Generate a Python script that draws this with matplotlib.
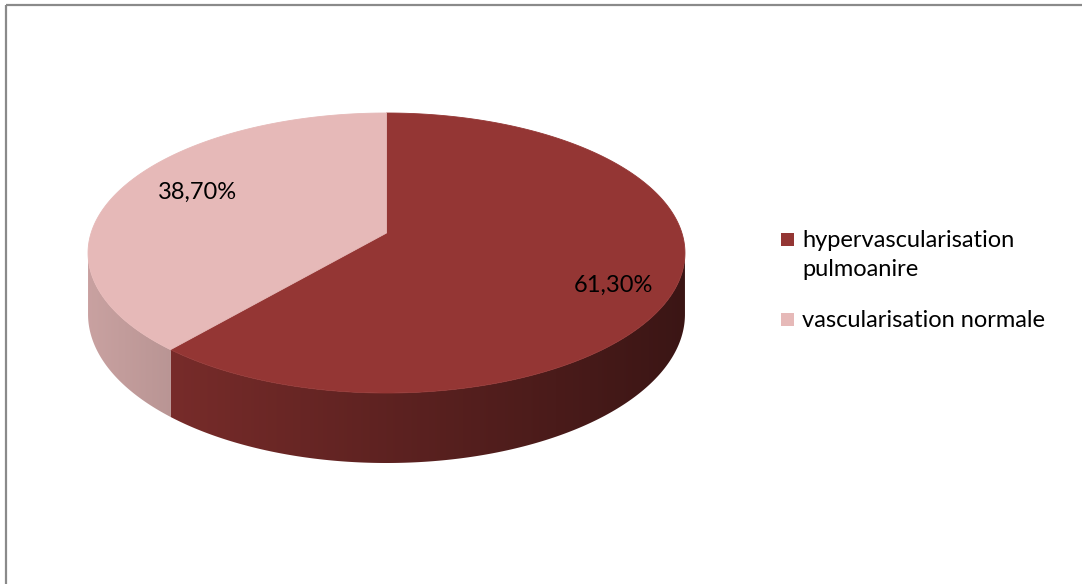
import numpy as np
import matplotlib
matplotlib.use("Agg")
import matplotlib.pyplot as plt
from matplotlib.patches import Polygon, Rectangle
from matplotlib.colors import to_rgb

# ---- data ----
categories = ["hypervascularisation\npulmoanire", "vascularisation normale"]
shares = [61.3, 38.7]
value_labels = ["61,30%", "38,70%"]
colors = ["#943634", "#E6B9B8"]

# ---- figure in pixel coordinates ----
W, H = 1082, 584
fig = plt.figure(figsize=(W / 100, H / 100), dpi=100)
ax = fig.add_axes([0, 0, 1, 1])
ax.set_xlim(0, W)
ax.set_ylim(H, 0)
ax.axis("off")

FONT = ["Lato", "DejaVu Sans"]
FS = 17

# chart frame
ax.add_patch(Rectangle((6, 5), W + 20, H + 20, fill=False,
                       edgecolor="#8a8a8a", linewidth=1.6, zorder=10))

# ---- tilted disc with perspective ----
CX, CY = 386.5, 233.0      # projected centre of the top face
SX, SY = 295.4, 103.86     # horizontal / depth scale
PERSP = 0.142857           # perspective strength
THICK = 60.0               # disc thickness


def project(theta, r=1.0):
    """theta: clockwise angle from 12 o'clock (back of the disc)."""
    u = r * np.sin(theta)
    v = -r * np.cos(theta)
    w = 1.0 - PERSP * v
    return CX + SX * u / w, (CY + SY * v) / w, w


def side_shade(rgb, x):
    t = np.clip((x - (CX - SX)) / (2 * SX), 0, 1)
    f = 0.87 - 0.47 * t
    return np.clip(np.outer(f, rgb), 0, 1)


fractions = np.array(shares) / np.sum(shares)
bounds = np.concatenate([[0], np.cumsum(fractions)]) * 2 * np.pi

# visible front part of the rim (between the two silhouette points)
vis_lo = np.arccos(-PERSP)
vis_hi = 2 * np.pi - vis_lo

# side walls, shaded left to right
gx = np.linspace(CX - SX - 10, CX + SX + 10, 800)
for i, col in enumerate(colors):
    a0, a1 = max(bounds[i], vis_lo), min(bounds[i + 1], vis_hi)
    if a1 <= a0:
        continue
    th = np.linspace(a0, a1, 400)
    x, y, w = project(th)
    yb = y + THICK / w
    pts = np.column_stack([np.r_[x, x[::-1]], np.r_[y, yb[::-1]]])
    wall = Polygon(pts, closed=True, facecolor="none", edgecolor="none")
    ax.add_patch(wall)
    grad = side_shade(to_rgb(col), gx)[None, :, :]
    im = ax.imshow(grad, extent=(gx[0], gx[-1], y.max() + THICK * 1.5, y.min() - 2),
                   aspect="auto", interpolation="bilinear", zorder=2)
    im.set_clip_path(wall)

# top faces
for i, col in enumerate(colors):
    th = np.linspace(bounds[i], bounds[i + 1], 400)
    x, y, _ = project(th)
    pts = np.column_stack([np.r_[CX, x], np.r_[CY, y]])
    ax.add_patch(Polygon(pts, closed=True, facecolor=col,
                         edgecolor=col, linewidth=0.6, zorder=3))

ax.set_xlim(0, W)
ax.set_ylim(H, 0)

# value labels
label_nudge = [(11, 22), (11, 0)]
for i, lab in enumerate(value_labels):
    mid = 0.5 * (bounds[i] + bounds[i + 1])
    lx, ly, _ = project(mid, 0.75)
    dx, dy = label_nudge[i]
    ax.text(lx + dx, ly + dy, lab, ha="center", va="baseline",
            fontsize=FS, family=FONT, color="#000000", zorder=5)

# legend
LEG_X, SQ = 781, 13
entry_top = [233, 313]
LINE = 29
for i, cat in enumerate(categories):
    top = entry_top[i]
    ax.add_patch(Rectangle((LEG_X, top), SQ, SQ, facecolor=colors[i],
                           edgecolor="none", zorder=5))
    for j, line in enumerate(cat.split("\n")):
        ax.text(LEG_X + 21, top + 14 + j * LINE, line, ha="left",
                va="baseline", fontsize=FS, family=FONT, color="#000000",
                zorder=5)

fig.savefig("out.png", dpi=100)
